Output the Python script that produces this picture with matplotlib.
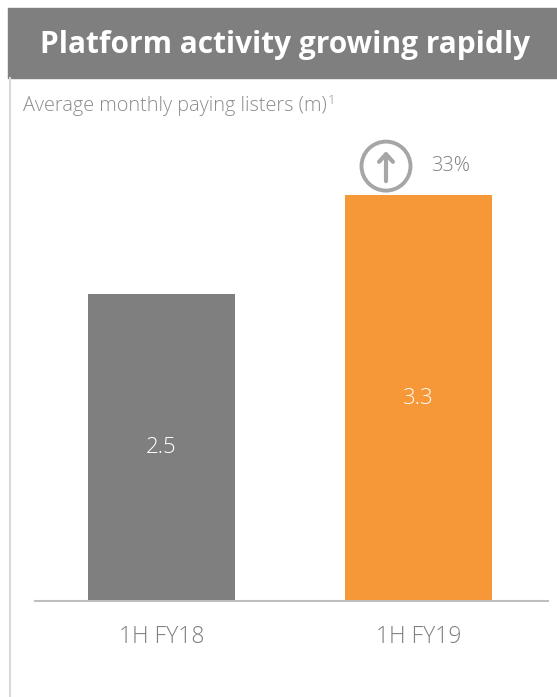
import matplotlib
matplotlib.use("Agg")
import matplotlib.pyplot as plt
from matplotlib.patches import Rectangle

# ── data ──
categories = ["1H FY18", "1H FY19"]
values = [2.5, 3.3]
value_labels = ["2.5", "3.3"]
bar_colors = ["#7f7f7f", "#f79838"]
growth_label = "33%"

title = "Platform activity growing rapidly"
subtitle = "Average monthly paying listers (m)"

W, H = 557, 697
plt.rcParams['font.family'] = ['Open Sans', 'DejaVu Sans']

fig = plt.figure(figsize=(W / 100, H / 100), dpi=100)
fig.patch.set_facecolor("white")


def fx(px):
    return px / W


def fy(py):
    return 1 - py / H


# header band
fig.patches.append(Rectangle((fx(8), fy(78)), fx(W - 8), (78 - 8) / H,
                             transform=fig.transFigure, color="#7f7f7f", zorder=0))
fig.text(fx(285), fy(45), title, color="white", fontsize=21.5, fontweight="bold",
         ha="center", va="center")

# left border line
fig.lines.append(plt.Line2D([fx(9.5), fx(9.5)], [fy(78), 0], transform=fig.transFigure,
                            color="#d9d9d9", linewidth=1.5))

# subtitle with small superscript footnote mark
sub = fig.text(fx(23), fy(106), subtitle, color="#8c8c8c", fontsize=14.3,
               fontweight="light", ha="left", va="center")
fig.canvas.draw()
bb = sub.get_window_extent()
fig.text(bb.x1 / W + fx(1), fy(100), "1", color="#8c8c8c", fontsize=9.5,
         fontweight="light", ha="left", va="center")

# ── bars ──
ax_left, ax_right, ax_bottom, ax_top = 35, 548, 601, 130
ax = fig.add_axes([fx(ax_left), fy(ax_bottom), (ax_right - ax_left) / W,
                   (ax_bottom - ax_top) / H])
ax.set_facecolor("none")
px_per_x = 257
px_per_y = 123
xs = list(range(len(categories)))
ax.set_xlim(-126.5 / px_per_x, 1 + (ax_right - ax_left - 383.5) / px_per_x)
ax.set_ylim(0, (ax_bottom - ax_top) / px_per_y)

ax.bar(xs, values, width=147 / px_per_x, color=bar_colors, zorder=2)
for x, v, lab in zip(xs, values, value_labels):
    ax.text(x, v / 2, lab, color="white", fontsize=16, fontweight="light",
            ha="center", va="center")

for s in ["top", "right", "left"]:
    ax.spines[s].set_visible(False)
ax.spines["bottom"].set_color("#bfbfbf")
ax.spines["bottom"].set_linewidth(1.5)
ax.set_yticks([])
ax.set_xticks(xs)
ax.set_xticklabels(categories, color="#7f7f7f", fontsize=16.5, fontweight="light")
ax.tick_params(axis="x", length=0, pad=17)

# growth icon above the second bar
icon_y = values[1] + 29 / px_per_y
icon_x = 1 - 32.5 / px_per_x
r_px = 24.5
ax.scatter([icon_x], [icon_y], s=(2 * r_px * 0.72) ** 2, facecolors="none",
           edgecolors="#a6a6a6", linewidths=2.8, zorder=3, clip_on=False)
dy = 15 / px_per_y
ax.annotate("", xy=(icon_x, icon_y + dy), xytext=(icon_x, icon_y - dy),
            arrowprops=dict(arrowstyle="->,head_width=0.5,head_length=0.55",
                            color="#a6a6a6", lw=3, shrinkA=0, shrinkB=0),
            annotation_clip=False)
ax.text(1 + 32 / px_per_x, icon_y, growth_label, color="#7f7f7f", fontsize=14.5,
        fontweight="light", ha="center", va="center")

fig.savefig("out.png", dpi=100)
